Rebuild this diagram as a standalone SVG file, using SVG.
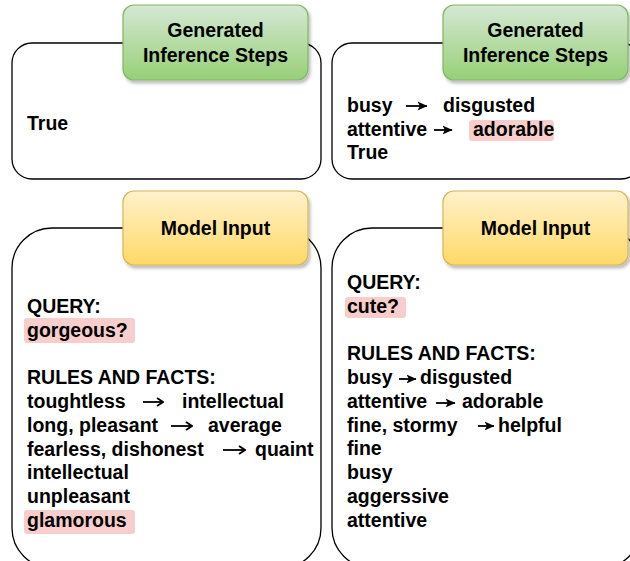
<svg xmlns="http://www.w3.org/2000/svg" width="630" height="561" viewBox="0 0 630 561">
<defs>
<linearGradient id="gGreen" x1="0" y1="0" x2="0" y2="1"><stop offset="0" stop-color="#d5e8d4"/><stop offset="1" stop-color="#97d077"/></linearGradient>
<linearGradient id="gYellow" x1="0" y1="0" x2="0" y2="1"><stop offset="0" stop-color="#fff2cc"/><stop offset="1" stop-color="#ffd966"/></linearGradient>
<filter id="sh" x="-10%" y="-10%" width="130%" height="140%"><feDropShadow dx="2" dy="3" stdDeviation="1.5" flood-color="#000" flood-opacity="0.25"/></filter>
<marker id="chev" viewBox="0 0 8 10" refX="7" refY="5" markerWidth="8" markerHeight="10" markerUnits="userSpaceOnUse" orient="auto"><path d="M1,1 L7,5 L1,9" fill="none" stroke="#000" stroke-width="1.8"/></marker>
<marker id="fill" viewBox="0 0 10 10" refX="9.5" refY="5" markerWidth="10" markerHeight="10" markerUnits="userSpaceOnUse" orient="auto"><path d="M0,0.5 L10,5 L0,9.5 L2.5,5 z" fill="#000"/></marker>
</defs>
<style>
.box{fill:#fff;stroke:#000;stroke-width:1.3}
.hg{fill:url(#gGreen);stroke:#82b366;stroke-width:1.2;filter:url(#sh)}
.hy{fill:url(#gYellow);stroke:#d6b656;stroke-width:1.2;filter:url(#sh)}
.ht{font-family:"Liberation Sans",Arial,sans-serif;font-weight:bold;font-size:19.5px;fill:#000;text-anchor:middle}
.t{font-family:"Liberation Sans",Arial,sans-serif;font-weight:bold;font-size:19.5px;fill:#000}
.hl{fill:#f8cecc;stroke:none}
.ac{stroke:#000;stroke-width:1.8;fill:none;marker-end:url(#chev)}
.af{stroke:#000;stroke-width:1.8;fill:none;marker-end:url(#fill)}
</style>
<rect width="630" height="561" fill="#fff"/>

<g id="steps-left">
<rect class="box" x="12" y="43" width="309" height="136" rx="20"/>
<rect class="hg" x="123" y="5" width="185" height="75" rx="11"/>
<text class="ht" x="215.5" y="37">Generated</text>
<text class="ht" x="215.5" y="62">Inference Steps</text>
<text class="t" x="27" y="130">True</text>
</g>

<g id="steps-right">
<rect class="box" x="332" y="43" width="309" height="136" rx="20"/>
<rect class="hg" x="443" y="5" width="185" height="75" rx="11"/>
<text class="ht" x="535.5" y="37">Generated</text>
<text class="ht" x="535.5" y="62">Inference Steps</text>
<rect class="hl" x="469" y="120" width="85" height="21" rx="3"/>
<text class="t" x="347" y="112">busy</text>
<text class="t" x="443" y="112">disgusted</text>
<text class="t" x="347" y="136">attentive</text>
<text class="t" x="473" y="136">adorable</text>
<text class="t" x="347" y="159">True</text>
</g>

<g id="input-left">
<rect class="box" x="12" y="228" width="309" height="340" rx="40"/>
<rect class="hy" x="123" y="191" width="185" height="74" rx="11"/>
<text class="ht" x="215.5" y="235">Model Input</text>
<rect class="hl" x="24" y="318" width="111" height="25" rx="3"/>
<rect class="hl" x="24" y="510" width="111" height="24" rx="3"/>
<text class="t" x="27" y="313">QUERY:</text>
<text class="t" x="27" y="337">gorgeous?</text>
<text class="t" x="27" y="384">RULES AND FACTS:</text>
<text class="t" x="27" y="408">toughtless</text>
<text class="t" x="182" y="408">intellectual</text>
<text class="t" x="27" y="432">long, pleasant</text>
<text class="t" x="208" y="432">average</text>
<text class="t" x="27" y="456">fearless, dishonest</text>
<text class="t" x="255" y="456">quaint</text>
<text class="t" x="27" y="479">intellectual</text>
<text class="t" x="27" y="503">unpleasant</text>
<text class="t" x="27" y="527">glamorous</text>
</g>

<g id="input-right">
<rect class="box" x="332" y="228" width="309" height="340" rx="40"/>
<rect class="hy" x="443" y="191" width="185" height="74" rx="11"/>
<text class="ht" x="535.5" y="235">Model Input</text>
<rect class="hl" x="345" y="297" width="61" height="21" rx="3"/>
<text class="t" x="347" y="289">QUERY:</text>
<text class="t" x="347" y="313">cute?</text>
<text class="t" x="347" y="360">RULES AND FACTS:</text>
<text class="t" x="347" y="384">busy</text>
<text class="t" x="420" y="384">disgusted</text>
<text class="t" x="347" y="408">attentive</text>
<text class="t" x="462" y="408">adorable</text>
<text class="t" x="347" y="432">fine, stormy</text>
<text class="t" x="498" y="432">helpful</text>
<text class="t" x="347" y="455">fine</text>
<text class="t" x="347" y="479">busy</text>
<text class="t" x="347" y="503">aggerssive</text>
<text class="t" x="347" y="527">attentive</text>
</g>

<g id="connectors">
<line class="af" x1="406" y1="106" x2="427" y2="106"/>
<line class="af" x1="434" y1="130" x2="452" y2="130"/>
<line class="ac" x1="143" y1="402" x2="163" y2="402"/>
<line class="ac" x1="171" y1="426" x2="192" y2="426"/>
<line class="ac" x1="223" y1="450" x2="245" y2="450"/>
<line class="af" x1="399" y1="379" x2="416" y2="379"/>
<line class="af" x1="436" y1="403" x2="455" y2="403"/>
<line class="af" x1="478" y1="426" x2="494" y2="426"/>
</g>
</svg>
